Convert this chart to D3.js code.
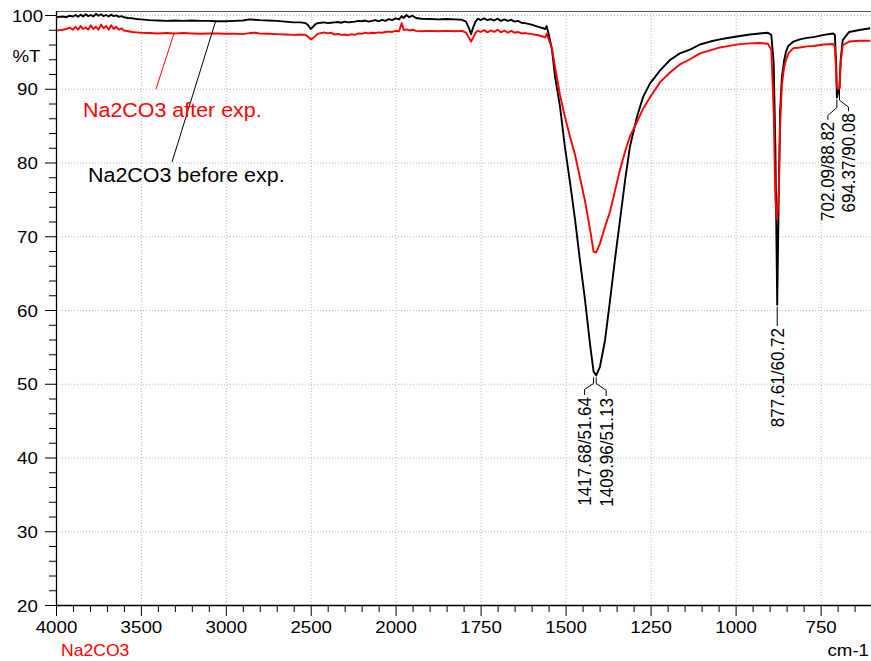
<!DOCTYPE html>
<html><head><meta charset="utf-8">
<script src="https://cdn.jsdelivr.net/npm/d3@7"></script>
<style>
html,body{margin:0;padding:0;background:#fff;}
svg{display:block;font-family:"Liberation Sans",Arial,Helvetica,sans-serif;}
</style></head><body>
<svg id="chart" width="871" height="661"></svg>
<script>
// ---------- data ----------
const wavenumbers = [
 4000,3980,3960,3940,3920,3900,3885,3870,3855,3840,3825,3810,3795,3780,3765,3750,3735,3720,3705,3690,
 3675,3660,3645,3630,3615,3600,3575,3550,3525,3500,3450,3400,3350,3300,3250,3200,3150,3100,3050,3000,
 2950,2900,2860,2830,2800,2750,2700,2650,2600,2560,2530,2515,2500,2490,2475,2460,2440,2420,2400,2380,
 2360,2340,2320,2300,2280,2260,2240,2220,2200,2180,2160,2140,2120,2100,2080,2060,2040,2020,2000,1990,
 1982,1976,1968,1960,1950,1940,1925,1900,1875,1850,1825,1805,1793,1784,1778,1772,1765,1758,1750,1740,
 1730,1720,1710,1700,1690,1680,1670,1660,1650,1640,1630,1620,1600,1580,1565,1560,1556,1552,1546,1540,
 1531,1516.5,1502,1487,1472,1458,1443,1428,1417.68,1409.96,1399,1384,1369,1355,1340,1325,1311,1290,1272,1252,
 1222,1193,1164,1134,1105,1075,1046,1015,987,958,929,905,895,888,883,877.61,873,869,864,857,
 852,845,830,811,790,771,740,713,708,704,702.09,698,694.37,691,685,666,636,604
];
const beforeExp = [
 99.7,99.75,99.8,99.7,99.9,99.8,100.0,99.75,100.05,99.8,100.1,99.85,100.0,99.8,100.15,99.9,100.1,99.85,100.0,99.8,
 100.05,99.85,99.95,99.75,99.85,99.7,99.6,99.55,99.45,99.4,99.3,99.25,99.2,99.25,99.2,99.25,99.2,99.2,99.15,99.15,
 99.2,99.25,99.4,99.35,99.3,99.25,99.2,99.1,99.0,99.0,98.9,98.6,98.1,98.3,98.7,98.9,98.95,99.0,98.9,98.95,
 99.0,99.05,98.95,99.1,99.0,99.05,99.1,99.2,99.15,99.25,99.1,99.2,99.3,99.15,99.35,99.2,99.45,99.3,99.55,99.4,
 99.85,99.6,100.0,99.7,99.9,99.6,99.5,99.45,99.4,99.45,99.4,99.35,99.1,98.2,97.4,98.3,99.1,99.5,99.3,99.55,
 99.3,99.45,99.25,99.5,99.2,99.4,99.2,99.35,99.1,99.2,98.95,98.9,98.7,98.4,98.2,98.1,98.5,97.8,96.6,95.3,
 91.6,87.6,82.1,77.3,72.2,66.8,61.4,55.3,51.64,51.13,52.3,55.9,61.4,66.8,72.2,77.6,82.1,86.2,88.9,90.7,
 92.5,93.9,94.8,95.3,96.0,96.4,96.7,96.95,97.15,97.35,97.5,97.6,97.3,93.5,82.0,60.72,76.0,87.0,91.5,93.9,
 95.0,95.8,96.4,96.7,96.9,97.0,97.3,97.5,97.3,93.0,88.82,89.6,90.08,93.9,96.6,97.7,97.97,98.2
];
const afterExp = [
 97.9,97.95,98.0,98.1,98.3,98.0,98.4,98.0,98.5,98.1,98.3,98.0,98.6,98.1,98.4,98.0,98.7,98.2,98.5,98.0,
 98.6,98.1,98.4,98.0,98.2,97.9,97.8,97.7,97.65,97.6,97.55,97.5,97.55,97.5,97.55,97.5,97.45,97.5,97.5,97.45,
 97.45,97.4,97.55,97.6,97.5,97.45,97.4,97.35,97.3,97.35,97.3,97.05,96.7,96.8,97.1,97.45,97.55,97.65,97.5,97.6,
 97.35,97.45,97.3,97.35,97.25,97.4,97.3,97.5,97.45,97.6,97.5,97.6,97.55,97.65,97.6,97.7,97.75,97.7,97.85,97.8,
 98.9,97.95,98.05,97.9,98.0,97.85,97.8,97.85,97.8,97.85,97.8,97.85,97.6,96.9,96.4,96.9,97.6,97.85,97.7,97.95,
 97.65,97.9,97.7,98.0,97.65,97.9,97.6,97.85,97.6,97.7,97.5,97.55,97.4,97.25,97.05,96.95,97.45,97.0,96.2,95.5,
 92.9,89.15,86.2,83.5,81.0,78.0,74.8,70.9,67.9,67.8,69.0,71.3,73.4,76.1,79.0,81.5,83.5,85.5,87.3,88.8,
 90.9,92.2,93.3,94.0,94.8,95.2,95.6,95.85,96.05,96.15,96.2,96.1,95.3,87.0,75.0,72.3,76.0,85.0,90.5,93.0,
 93.8,94.8,95.5,95.6,95.75,95.8,96.0,96.07,95.7,92.0,90.2,90.0,90.1,93.45,95.9,96.4,96.5,96.5
];
const seriesNames = ["Na2CO3 before exp.", "Na2CO3 after exp."];
const seriesColors = ["#000000", "#ff0000"];
const xMajorTicks = [4000,3500,3000,2500,2000,1750,1500,1250,1000,750];
const yMajorTicks = [20,30,40,50,60,70,80,90,100];
const peakWn = [1417.68, 1409.96, 877.61, 702.09, 694.37];
const peakT  = [51.64, 51.13, 60.72, 88.82, 90.08];
const sampleName = "Na2CO3";
const xUnit = "cm-1";
const yUnit = "%T";

// ---------- layout ----------
const L = 56, R = 871, T = 11, B = 605;
const SX = 1.1; // horizontal stretch of the reference's glyphs
const svg = d3.select("#chart");
const x = d3.scaleLinear().domain([4000, 2000, 600]).range([56, 395.6, 871.6]);
const y = d3.scaleLinear().domain([20, 100]).range([605, 15]);

const xMinor = d3.range(3900, 2000, -100).concat(d3.range(1950, 600, -50)).filter(v => !xMajorTicks.includes(v));
const yMinor = d3.range(22, 100, 2).filter(v => v % 10 !== 0);

// grid
svg.append("g").attr("transform", `translate(0,${B})`)
  .call(d3.axisBottom(x).tickValues(xMajorTicks.filter(v => v !== 4000)).tickSize(-(B - T)).tickSizeOuter(0).tickFormat(""))
  .call(g => { g.select(".domain").remove(); g.selectAll("line").attr("stroke", "#b8b8b8").attr("stroke-dasharray", "1,2"); });
svg.append("g").attr("transform", `translate(${L},0)`)
  .call(d3.axisLeft(y).tickValues(yMajorTicks.filter(v => v !== 20)).tickSize(-(R - L)).tickSizeOuter(0).tickFormat(""))
  .call(g => { g.select(".domain").remove(); g.selectAll("line").attr("stroke", "#b8b8b8").attr("stroke-dasharray", "1,2"); });

// top border
svg.append("line").attr("x1", L).attr("x2", R).attr("y1", T + 0.5).attr("y2", T + 0.5).attr("stroke", "#555").attr("stroke-width", 1.2);

// curves
svg.append("clipPath").attr("id", "clip").append("rect").attr("x", L).attr("y", T).attr("width", R - L).attr("height", B - T);
const line = d3.line().x((d, i) => x(wavenumbers[i])).y(d => y(d));
[beforeExp, afterExp].forEach((s, k) => {
  svg.append("path").attr("clip-path", "url(#clip)").attr("d", line(s))
    .attr("fill", "none").attr("stroke", seriesColors[k]).attr("stroke-width", 1.9).attr("stroke-linejoin", "round");
});

// axes
const styleText = (sel) => sel.attr("font-size", 17).attr("fill", "#000").attr("font-family", '"Liberation Sans",Arial,sans-serif');
const xAxis = svg.append("g").attr("transform", `translate(0,${B})`)
  .call(d3.axisBottom(x).tickValues(xMajorTicks).tickSize(11).tickSizeOuter(0).tickFormat(d3.format("d")));
xAxis.select(".domain").remove();
xAxis.selectAll("line").attr("stroke", "#000");
xAxis.selectAll("text").call(styleText).attr("x", 0).attr("y", 0).attr("dy", 0)
  .attr("text-anchor", "middle").attr("transform", `translate(0,28.3) scale(${SX},1)`);
const xMinAxis = svg.append("g").attr("transform", `translate(0,${B})`)
  .call(d3.axisBottom(x).tickValues(xMinor).tickSize(7).tickSizeOuter(0).tickFormat(""));
xMinAxis.select(".domain").remove();
xMinAxis.selectAll("line").attr("stroke", "#000");

const yAxis = svg.append("g").attr("transform", `translate(${L},0)`)
  .call(d3.axisLeft(y).tickValues(yMajorTicks).tickSize(11).tickSizeOuter(0).tickFormat(d3.format("d")));
yAxis.select(".domain").remove();
yAxis.selectAll("line").attr("stroke", "#000");
yAxis.selectAll("text").call(styleText).attr("x", 0).attr("y", 0).attr("dy", 0)
  .attr("text-anchor", "middle").attr("transform", `translate(-28.5,6.2) scale(${SX},1)`);
const yMinAxis = svg.append("g").attr("transform", `translate(${L},0)`)
  .call(d3.axisLeft(y).tickValues(yMinor).tickSize(7).tickSizeOuter(0).tickFormat(""));
yMinAxis.select(".domain").remove();
yMinAxis.selectAll("line").attr("stroke", "#000");

// axis lines
svg.append("line").attr("x1", L + 0.5).attr("x2", L + 0.5).attr("y1", T).attr("y2", B + 1).attr("stroke", "#000").attr("stroke-width", 1.3);
svg.append("line").attr("x1", L).attr("x2", R).attr("y1", B + 0.5).attr("y2", B + 0.5).attr("stroke", "#000").attr("stroke-width", 1.5);

// axis captions
svg.append("text").text(yUnit).call(styleText).attr("text-anchor", "middle")
  .attr("transform", `translate(26.5,61.7) scale(${SX},1)`);
svg.append("text").text(xUnit).call(styleText).attr("text-anchor", "end")
  .attr("transform", `translate(869,656) scale(${SX},1)`);
svg.append("text").text(sampleName).call(styleText).attr("font-size", 16).attr("fill", "#ff0000")
  .attr("transform", `translate(61,656) scale(${SX},1)`);

// legend labels with leader lines to the curves
const interp = (arr, wn) => {
  const i = wavenumbers.findIndex(w => w <= wn);
  const w0 = wavenumbers[i - 1], w1 = wavenumbers[i];
  const t = (w0 - wn) / (w0 - w1);
  return arr[i - 1] + t * (arr[i] - arr[i - 1]);
};
const legendDefs = [
  { s: 0, text: [88, 181.7], from: [172, 162], wn: 3060 },
  { s: 1, text: [83, 116.7], from: [156, 89], wn: 3305 }
];
legendDefs.forEach(d => {
  const arr = d.s === 0 ? beforeExp : afterExp;
  svg.append("line").attr("x1", d.from[0]).attr("y1", d.from[1])
    .attr("x2", x(d.wn)).attr("y2", y(interp(arr, d.wn)))
    .attr("stroke", seriesColors[d.s]).attr("stroke-width", 1);
  svg.append("text").text(seriesNames[d.s]).attr("font-size", 19.5).attr("fill", seriesColors[d.s])
    .attr("transform", `translate(${d.text[0]},${d.text[1]}) scale(${SX},1)`);
});

// peak annotations
const peakLayout = [
  { dx: -9,  knee: 6, elbow: 12, top: 397 },
  { dx: 10,  knee: 6, elbow: 13, top: 398 },
  { dx: 0,   knee: 0, elbow: 0,  top: 328 },
  { dx: -9,  knee: 8, elbow: 16, top: 121.7 },
  { dx: 9,   knee: 10, elbow: 17, top: 113.3 }
];
const tipY = [y(51.13), y(51.13), y(60.72), y(88.82), y(90.08)];
peakWn.forEach((wn, i) => {
  const p = peakLayout[i];
  const px = x(wn), py = tipY[i] + 2;
  const cx = px + p.dx;
  const pts = p.knee ? [[px, py], [px, py + p.knee], [cx, py + p.elbow], [cx, p.top - 2]]
                     : [[px, py], [px, p.top - 2]];
  svg.append("path").attr("d", d3.line()(pts)).attr("fill", "none").attr("stroke", "#000").attr("stroke-width", 1);
  svg.append("text").text(`${wn.toFixed(2)}/${peakT[i].toFixed(2)}`)
    .attr("font-size", 17).attr("fill", "#000").attr("text-anchor", "end")
    .attr("transform", `translate(${cx + 6.6},${p.top}) scale(${SX},1) rotate(-90)`);
});
</script>
</body></html>
